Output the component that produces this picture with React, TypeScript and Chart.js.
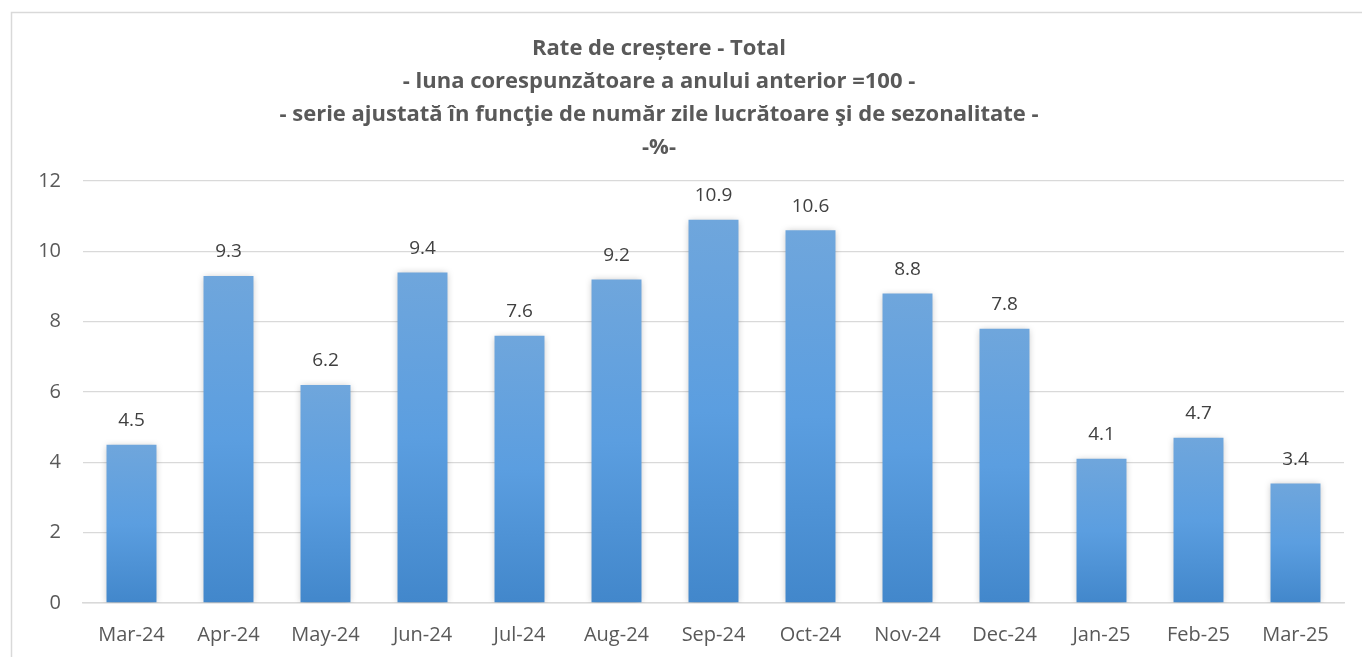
import React, { useEffect, useRef } from "react";
import { Chart, registerables } from "chart.js";
Chart.register(...registerables);

const categories = ["Mar-24","Apr-24","May-24","Jun-24","Jul-24","Aug-24","Sep-24","Oct-24","Nov-24","Dec-24","Jan-25","Feb-25","Mar-25"];
const values = [4.5, 9.3, 6.2, 9.4, 7.6, 9.2, 10.9, 10.6, 8.8, 7.8, 4.1, 4.7, 3.4];
const titleLines = [
  "Rate de creștere - Total",
  "- luna corespunzătoare a anului anterior =100 -",
  "- serie ajustată în funcţie de număr zile lucrătoare şi de sezonalitate -",
  "-%-",
];
const yMin = 0;
const yMax = 12;
const yStep = 2;

const FONT = "'Open Sans', 'Liberation Sans', sans-serif";

const frame = {
  id: "frame",
  beforeDraw(chart: any) {
    const c = chart.ctx;
    c.save();
    c.fillStyle = "#ffffff";
    c.fillRect(0, 0, chart.width, chart.height);
    c.strokeStyle = "#d9d9d9";
    c.lineWidth = 1.5;
    c.beginPath();
    c.moveTo(11.5, chart.height + 5);
    c.lineTo(11.5, 12.5);
    c.lineTo(chart.width + 5, 12.5);
    c.stroke();
    c.restore();
  },
};

// Draws the title text (the built-in title only reserves the space), shifted slightly left as in the reference
const titleText = {
  id: "titleText",
  afterDraw(chart: any) {
    const t = chart.titleBlock;
    if (!t) return;
    const c = chart.ctx;
    const lh = 33;
    c.save();
    c.fillStyle = "#595959";
    c.font = `bold 22px ${FONT}`;
    c.textAlign = "center";
    c.textBaseline = "middle";
    const cx = chart.width / 2 - 22;
    const top = t.top + 18;
    titleLines.forEach((line, i) => {
      c.fillText(line, cx, top + lh * i + lh / 2);
    });
    c.restore();
  },
};

const barShadow = {
  id: "barShadow",
  beforeDatasetDraw(chart: any) {
    const c = chart.ctx;
    c.save();
    c.shadowColor = "rgba(0,0,0,0.28)";
    c.shadowBlur = 7;
    c.shadowOffsetX = 0;
    c.shadowOffsetY = 1;
  },
  afterDatasetDraw(chart: any) {
    chart.ctx.restore();
  },
};

const valueLabels = {
  id: "valueLabels",
  afterDatasetsDraw(chart: any) {
    const c = chart.ctx;
    const meta = chart.getDatasetMeta(0);
    c.save();
    c.fillStyle = "#404040";
    c.font = `19px ${FONT}`;
    c.textAlign = "center";
    c.textBaseline = "middle";
    meta.data.forEach((el: any, i: number) => {
      const v = chart.data.datasets[0].data[i];
      c.fillText(v.toFixed(1), el.x, el.y - 24);
    });
    c.restore();
  },
};

export default function App() {
  const ref = useRef<HTMLCanvasElement>(null);
  useEffect(() => {
    document.body.style.margin = "0";
    const chart = new Chart(ref.current!, {
      type: "bar",
      data: {
        labels: categories,
        datasets: [
          {
            data: values,
            backgroundColor: (ctx: any) => {
              const ch = ctx.chart;
              const y = ch.scales?.y;
              if (!y || ctx.dataIndex === undefined) return "#5b9bd5";
              const v = values[ctx.dataIndex];
              const top = y.getPixelForValue(v);
              const bot = y.getPixelForValue(0);
              if (!isFinite(top) || !isFinite(bot) || top === bot) return "#5b9bd5";
              const g = ch.ctx.createLinearGradient(0, top, 0, bot);
              g.addColorStop(0, "#6fa6dc");
              g.addColorStop(0.5, "#5b9ee0");
              g.addColorStop(1, "#4287cb");
              return g;
            },
            borderWidth: 0,
            categoryPercentage: 0.515,
            barPercentage: 1,
          },
        ],
      },
      options: {
        animation: false,
        responsive: false,
        maintainAspectRatio: false,
        layout: { padding: { left: 11, right: 18, top: 14, bottom: 0 } },
        plugins: {
          legend: { display: false },
          tooltip: { enabled: false },
          title: {
            display: true,
            text: titleLines,
            color: "rgba(0,0,0,0)",
            font: { family: FONT, size: 22, weight: "bold", lineHeight: 1.5 },
            padding: { top: 18, bottom: 17 },
          },
        },
        scales: {
          x: {
            grid: { display: false, drawTicks: false },
            border: { display: true, color: "#d9d9d9", width: 1.5 },
            ticks: { color: "#595959", font: { family: FONT, size: 20 }, padding: 20 },
            afterFit: (s: any) => { s.height = 54; },
          },
          y: {
            min: yMin,
            max: yMax,
            grid: { color: "#d9d9d9", lineWidth: 1.3, drawTicks: false },
            border: { display: false },
            ticks: { stepSize: yStep, color: "#595959", font: { family: FONT, size: 20 }, padding: 22 },
            afterFit: (s: any) => { s.width = 72; },
          },
        },
      },
      plugins: [frame, barShadow, valueLabels, titleText],
    });
    return () => chart.destroy();
  }, []);
  return (
    <div style={{ width: 1362, height: 657 }}>
      <canvas ref={ref} width={1362} height={657} style={{ display: "block" }} />
    </div>
  );
}
